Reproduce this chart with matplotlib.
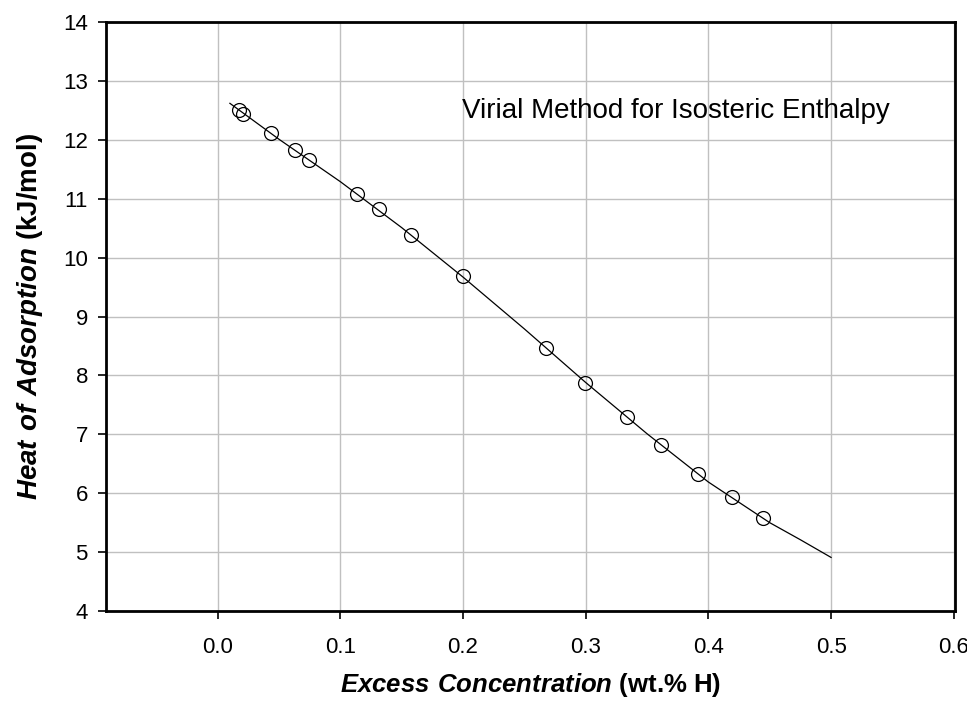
import numpy as np
import matplotlib
matplotlib.use("Agg")
import matplotlib.pyplot as plt

# Fontes (parecidas com Arial)
plt.rcParams['font.family'] = ['Liberation Sans', 'DejaVu Sans']
plt.rcParams['mathtext.fontset'] = 'custom'
plt.rcParams['mathtext.rm'] = 'Liberation Sans'
plt.rcParams['mathtext.bfit'] = 'Liberation Sans:italic:bold'

conc = [0.0174, 0.0209, 0.0432, 0.0632, 0.0747, 0.1135, 0.1312, 0.1578,
        0.1997, 0.2673, 0.2996, 0.3333, 0.3613, 0.3917, 0.4189, 0.4442]
calor = [12.51, 12.44, 12.11, 11.83, 11.65, 11.08, 10.82, 10.38,
         9.68, 8.47, 7.88, 7.30, 6.82, 6.32, 5.93, 5.58]

# Curva do ajuste virial
conc_fit = [0.010, 0.050, 0.100, 0.150, 0.200, 0.250, 0.300, 0.350,
            0.400, 0.450, 0.475, 0.500]
calor_fit = [12.62, 12.01, 11.29, 10.51, 9.67, 8.79, 7.88, 7.01,
             6.19, 5.50, 5.21, 4.91]

xticks = [0.0, 0.1, 0.2, 0.3, 0.4, 0.5, 0.6]
yticks = [4, 5, 6, 7, 8, 9, 10, 11, 12, 13, 14]

fig = plt.figure(figsize=(9.67, 7.11), dpi=100)
ax = fig.add_axes([0.1096, 0.1406, 0.8780, 0.8284])

ax.plot(conc_fit, calor_fit, color='black', linewidth=0.9, zorder=3)
ax.plot(conc, calor, linestyle='none', marker='o', markersize=10,
        markerfacecolor='none', markeredgecolor='black', markeredgewidth=0.9, zorder=4)

ax.set_xlim(-0.091, 0.601)
ax.set_ylim(4, 14)
ax.set_xticks(xticks)
ax.set_xticklabels(['%.1f' % v for v in xticks])
ax.set_yticks(yticks)
ax.tick_params(axis='both', direction='out', length=6, width=1.2,
               labelsize=16, color='black')
ax.tick_params(axis='x', pad=13)
ax.tick_params(axis='y', pad=7)

ax.grid(True, color='#c0c0c0', linewidth=1.0)
ax.set_axisbelow(True)
for s in ax.spines.values():
    s.set_linewidth(2.0)
    s.set_color('black')

ax.set_xlabel(r'$\mathbfit{Excess\ Concentration}$ (wt.% H)',
              fontsize=18.5, fontweight='bold', labelpad=9)
ax.set_ylabel(r'$\mathbfit{Heat\ of\ Adsorption}$ (kJ/mol)',
              fontsize=20, fontweight='bold', labelpad=13)

ax.text(0.199, 12.365, 'Virial Method for Isosteric Enthalpy', fontsize=20,
        ha='left', va='baseline')

fig.savefig('out.png', dpi=100)
